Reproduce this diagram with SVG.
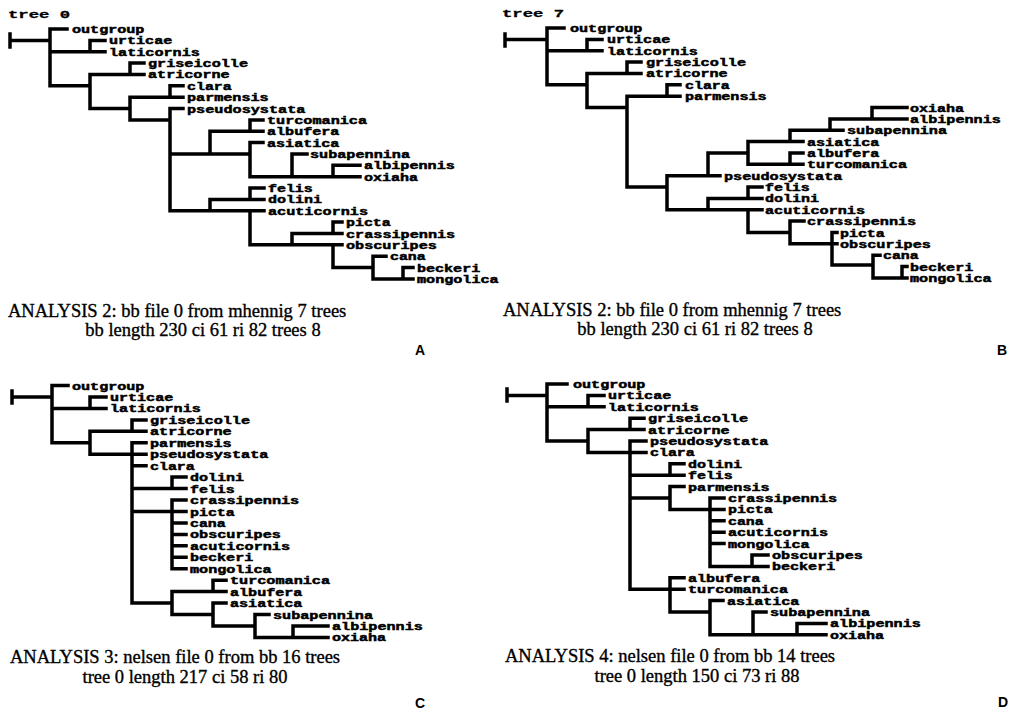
<svg xmlns="http://www.w3.org/2000/svg" width="1009" height="712" viewBox="0 0 1009 712">
<style>
.br{fill:none;stroke:#000;stroke-width:3.5;stroke-linecap:square}
.lb{font-family:"Liberation Mono","DejaVu Sans Mono",monospace;font-weight:bold;font-size:10px;fill:#000;stroke:#000;stroke-width:0.45}
.tt{font-family:"Liberation Mono","DejaVu Sans Mono",monospace;font-weight:bold;font-size:11px;fill:#000;stroke:#000;stroke-width:0.3}
.cap{font-family:"Liberation Serif","Times New Roman",serif;font-size:18.5px;fill:#000;stroke:#000;stroke-width:0.35}
.pl{font-family:"Liberation Sans",Arial,sans-serif;font-weight:bold;font-size:14px;fill:#000}
</style>
<rect width="1009" height="712" fill="#fff"/>

<!-- Tree A -->
<g id="treeA">
<text class="tt" x="8" y="18" textLength="62" lengthAdjust="spacingAndGlyphs">tree 0</text>
<g id="connectorsA" class="br">
<path d="M10 34V47M10 40.4H50M50 29V85.8M50 29H67M50 51.7H105M50 85.8H90M90 40.4V51.7M90 40.4H105M90 74.4V108.5M90 74.4H144M130 63.1V74.4M130 63.1H144M90 108.5H130M130 97.2V119.9M130 97.2H183M170 85.8V97.2M170 85.8H183M130 119.9H170M170 108.5V210.8M170 108.5H183M170 154H210M170 210.8H210M210 131.2V154M210 131.2H263M250 119.9V131.2M250 119.9H263M210 154H250M250 142.6V176.7M250 142.6H263M250 176.7H360M292 154V176.7M292 154H307M333 165.3V176.7M333 165.3H360M210 199.4V210.8M210 199.4H264M250 188V199.4M250 188H264M210 210.8H264M250 210.8V244.8M250 244.8H342M292 233.5V244.8M292 233.5H342M333 222.1V233.5M333 222.1H342M333 244.8V267.6M333 267.6H373M373 256.2V278.9M373 256.2H386M373 278.9H413M403 267.6V278.9M403 267.6H413"/>
</g>
<g id="A-outgroup"><text class="lb" x="72" y="33" textLength="72.4" lengthAdjust="spacingAndGlyphs">outgroup</text></g>
<g id="A-urticae"><text class="lb" x="109" y="44.4" textLength="63.2" lengthAdjust="spacingAndGlyphs">urticae</text></g>
<g id="A-laticornis"><text class="lb" x="109" y="55.7" textLength="90.8" lengthAdjust="spacingAndGlyphs">laticornis</text></g>
<g id="A-griseicolle"><text class="lb" x="148" y="67.1" textLength="100" lengthAdjust="spacingAndGlyphs">griseicolle</text></g>
<g id="A-atricorne"><text class="lb" x="148" y="78.4" textLength="81.6" lengthAdjust="spacingAndGlyphs">atricorne</text></g>
<g id="A-clara"><text class="lb" x="187" y="89.8" textLength="44.8" lengthAdjust="spacingAndGlyphs">clara</text></g>
<g id="A-parmensis"><text class="lb" x="187" y="101.2" textLength="81.6" lengthAdjust="spacingAndGlyphs">parmensis</text></g>
<g id="A-pseudosystata"><text class="lb" x="187" y="112.5" textLength="118.4" lengthAdjust="spacingAndGlyphs">pseudosystata</text></g>
<g id="A-turcomanica"><text class="lb" x="267" y="123.9" textLength="100" lengthAdjust="spacingAndGlyphs">turcomanica</text></g>
<g id="A-albufera"><text class="lb" x="267" y="135.2" textLength="72.4" lengthAdjust="spacingAndGlyphs">albufera</text></g>
<g id="A-asiatica"><text class="lb" x="267" y="146.6" textLength="72.4" lengthAdjust="spacingAndGlyphs">asiatica</text></g>
<g id="A-subapennina"><text class="lb" x="310" y="158" textLength="100" lengthAdjust="spacingAndGlyphs">subapennina</text></g>
<g id="A-albipennis"><text class="lb" x="364" y="169.3" textLength="90.8" lengthAdjust="spacingAndGlyphs">albipennis</text></g>
<g id="A-oxiaha"><text class="lb" x="364" y="180.7" textLength="54" lengthAdjust="spacingAndGlyphs">oxiaha</text></g>
<g id="A-felis"><text class="lb" x="268" y="192" textLength="44.8" lengthAdjust="spacingAndGlyphs">felis</text></g>
<g id="A-dolini"><text class="lb" x="268" y="203.4" textLength="54" lengthAdjust="spacingAndGlyphs">dolini</text></g>
<g id="A-acuticornis"><text class="lb" x="268" y="214.8" textLength="100" lengthAdjust="spacingAndGlyphs">acuticornis</text></g>
<g id="A-picta"><text class="lb" x="346" y="226.1" textLength="44.8" lengthAdjust="spacingAndGlyphs">picta</text></g>
<g id="A-crassipennis"><text class="lb" x="346" y="237.5" textLength="109.2" lengthAdjust="spacingAndGlyphs">crassipennis</text></g>
<g id="A-obscuripes"><text class="lb" x="346" y="248.8" textLength="90.8" lengthAdjust="spacingAndGlyphs">obscuripes</text></g>
<g id="A-cana"><text class="lb" x="390" y="260.2" textLength="35.6" lengthAdjust="spacingAndGlyphs">cana</text></g>
<g id="A-beckeri"><text class="lb" x="417" y="271.6" textLength="63.2" lengthAdjust="spacingAndGlyphs">beckeri</text></g>
<g id="A-mongolica"><text class="lb" x="417" y="282.9" textLength="81.6" lengthAdjust="spacingAndGlyphs">mongolica</text></g>
<text class="cap" x="8" y="317">ANALYSIS 2: bb file 0 from mhennig 7 trees</text>
<text class="cap" x="203" y="336" text-anchor="middle">bb length 230 ci 61 ri 82 trees 8</text>
<text class="pl" x="415" y="355">A</text>
</g>

<!-- Tree B -->
<g id="treeB">
<text class="tt" x="502" y="17" textLength="62" lengthAdjust="spacingAndGlyphs">tree 7</text>
<g id="connectorsB" class="br">
<path d="M505 34V46M505 39.4H547M547 28V84.8M547 28H564M547 50.7H602M547 84.8H587M587 39.4V50.7M587 39.4H602M587 73.4V107.5M587 73.4H641M627 62.1V73.4M627 62.1H641M587 107.5H627M627 96.2V187M627 96.2H680M667 84.8V96.2M667 84.8H680M627 187H667M667 175.7V209.8M667 175.7H720M708 153V175.7M708 153H748M748 141.6V164.3M748 141.6H803M748 164.3H803M790 153V164.3M790 153H803M790 130.2V141.6M790 130.2H843M830 118.9V130.2M830 118.9H907M872 107.5V118.9M872 107.5H907M667 209.8H708M708 198.4V209.8M708 198.4H762M748 187V198.4M748 187H762M708 209.8H762M748 209.8V232.5M748 232.5H790M790 221.1V243.8M790 221.1H804M790 243.8H837M832 232.5V265M832 232.5H837M832 265H873M873 255.2V277.9M873 255.2H880M873 277.9H907M902 266.6V277.9M902 266.6H907"/>
</g>
<g id="B-outgroup"><text class="lb" x="570" y="32" textLength="72.4" lengthAdjust="spacingAndGlyphs">outgroup</text></g>
<g id="B-urticae"><text class="lb" x="607" y="43.4" textLength="63.2" lengthAdjust="spacingAndGlyphs">urticae</text></g>
<g id="B-laticornis"><text class="lb" x="607" y="54.7" textLength="90.8" lengthAdjust="spacingAndGlyphs">laticornis</text></g>
<g id="B-griseicolle"><text class="lb" x="646" y="66.1" textLength="100" lengthAdjust="spacingAndGlyphs">griseicolle</text></g>
<g id="B-atricorne"><text class="lb" x="646" y="77.4" textLength="81.6" lengthAdjust="spacingAndGlyphs">atricorne</text></g>
<g id="B-clara"><text class="lb" x="685" y="88.8" textLength="44.8" lengthAdjust="spacingAndGlyphs">clara</text></g>
<g id="B-parmensis"><text class="lb" x="685" y="100.2" textLength="81.6" lengthAdjust="spacingAndGlyphs">parmensis</text></g>
<g id="B-oxiaha"><text class="lb" x="910" y="111.5" textLength="54" lengthAdjust="spacingAndGlyphs">oxiaha</text></g>
<g id="B-albipennis"><text class="lb" x="910" y="122.9" textLength="90.8" lengthAdjust="spacingAndGlyphs">albipennis</text></g>
<g id="B-subapennina"><text class="lb" x="847" y="134.2" textLength="100" lengthAdjust="spacingAndGlyphs">subapennina</text></g>
<g id="B-asiatica"><text class="lb" x="807" y="145.6" textLength="72.4" lengthAdjust="spacingAndGlyphs">asiatica</text></g>
<g id="B-albufera"><text class="lb" x="807" y="157" textLength="72.4" lengthAdjust="spacingAndGlyphs">albufera</text></g>
<g id="B-turcomanica"><text class="lb" x="807" y="168.3" textLength="100" lengthAdjust="spacingAndGlyphs">turcomanica</text></g>
<g id="B-pseudosystata"><text class="lb" x="724" y="179.7" textLength="118.4" lengthAdjust="spacingAndGlyphs">pseudosystata</text></g>
<g id="B-felis"><text class="lb" x="765" y="191" textLength="44.8" lengthAdjust="spacingAndGlyphs">felis</text></g>
<g id="B-dolini"><text class="lb" x="765" y="202.4" textLength="54" lengthAdjust="spacingAndGlyphs">dolini</text></g>
<g id="B-acuticornis"><text class="lb" x="765" y="213.8" textLength="100" lengthAdjust="spacingAndGlyphs">acuticornis</text></g>
<g id="B-crassipennis"><text class="lb" x="807" y="225.1" textLength="109.2" lengthAdjust="spacingAndGlyphs">crassipennis</text></g>
<g id="B-picta"><text class="lb" x="840" y="236.5" textLength="44.8" lengthAdjust="spacingAndGlyphs">picta</text></g>
<g id="B-obscuripes"><text class="lb" x="840" y="247.8" textLength="90.8" lengthAdjust="spacingAndGlyphs">obscuripes</text></g>
<g id="B-cana"><text class="lb" x="883" y="259.2" textLength="35.6" lengthAdjust="spacingAndGlyphs">cana</text></g>
<g id="B-beckeri"><text class="lb" x="910" y="270.6" textLength="63.2" lengthAdjust="spacingAndGlyphs">beckeri</text></g>
<g id="B-mongolica"><text class="lb" x="910" y="281.9" textLength="81.6" lengthAdjust="spacingAndGlyphs">mongolica</text></g>
<text class="cap" x="503" y="316">ANALYSIS 2: bb file 0 from mhennig 7 trees</text>
<text class="cap" x="695" y="335" text-anchor="middle">bb length 230 ci 61 ri 82 trees 8</text>
<text class="pl" x="997" y="355">B</text>
</g>

<!-- Tree C -->
<g id="treeC">
<g id="connectorsC" class="br">
<path d="M12 391V403M12 397H52M52 385.5V442.8M52 385.5H68M52 408.4H106M52 442.8H90M90 397V408.4M90 397H106M90 431.3V454.2M90 431.3H146M132 419.9V431.3M132 419.9H146M90 454.2H146M132 442.8V603.1M132 442.8H146M132 465.7H146M132 488.6H186M172 477.1V488.6M172 477.1H186M132 511.5H186M172 500V568.7M172 500H186M172 522.9H186M172 534.4H186M172 545.8H186M172 557.3H186M172 568.7H186M132 603.1H172M172 591.6V614.5M172 591.6H226M213 580.2V591.6M213 580.2H226M172 614.5H213M213 603.1V626M213 603.1H226M213 626H255M255 614.5V637.4M255 614.5H269M255 637.4H328M293 626V637.4M293 626H328"/>
</g>
<g id="C-outgroup"><text class="lb" x="72" y="389.5" textLength="72.4" lengthAdjust="spacingAndGlyphs">outgroup</text></g>
<g id="C-urticae"><text class="lb" x="110" y="401" textLength="63.2" lengthAdjust="spacingAndGlyphs">urticae</text></g>
<g id="C-laticornis"><text class="lb" x="110" y="412.4" textLength="90.8" lengthAdjust="spacingAndGlyphs">laticornis</text></g>
<g id="C-griseicolle"><text class="lb" x="150" y="423.9" textLength="100" lengthAdjust="spacingAndGlyphs">griseicolle</text></g>
<g id="C-atricorne"><text class="lb" x="150" y="435.3" textLength="81.6" lengthAdjust="spacingAndGlyphs">atricorne</text></g>
<g id="C-parmensis"><text class="lb" x="150" y="446.8" textLength="81.6" lengthAdjust="spacingAndGlyphs">parmensis</text></g>
<g id="C-pseudosystata"><text class="lb" x="150" y="458.2" textLength="118.4" lengthAdjust="spacingAndGlyphs">pseudosystata</text></g>
<g id="C-clara"><text class="lb" x="150" y="469.7" textLength="44.8" lengthAdjust="spacingAndGlyphs">clara</text></g>
<g id="C-dolini"><text class="lb" x="190" y="481.1" textLength="54" lengthAdjust="spacingAndGlyphs">dolini</text></g>
<g id="C-felis"><text class="lb" x="190" y="492.6" textLength="44.8" lengthAdjust="spacingAndGlyphs">felis</text></g>
<g id="C-crassipennis"><text class="lb" x="190" y="504" textLength="109.2" lengthAdjust="spacingAndGlyphs">crassipennis</text></g>
<g id="C-picta"><text class="lb" x="190" y="515.5" textLength="44.8" lengthAdjust="spacingAndGlyphs">picta</text></g>
<g id="C-cana"><text class="lb" x="190" y="526.9" textLength="35.6" lengthAdjust="spacingAndGlyphs">cana</text></g>
<g id="C-obscuripes"><text class="lb" x="190" y="538.4" textLength="90.8" lengthAdjust="spacingAndGlyphs">obscuripes</text></g>
<g id="C-acuticornis"><text class="lb" x="190" y="549.8" textLength="100" lengthAdjust="spacingAndGlyphs">acuticornis</text></g>
<g id="C-beckeri"><text class="lb" x="190" y="561.3" textLength="63.2" lengthAdjust="spacingAndGlyphs">beckeri</text></g>
<g id="C-mongolica"><text class="lb" x="190" y="572.7" textLength="81.6" lengthAdjust="spacingAndGlyphs">mongolica</text></g>
<g id="C-turcomanica"><text class="lb" x="230" y="584.2" textLength="100" lengthAdjust="spacingAndGlyphs">turcomanica</text></g>
<g id="C-albufera"><text class="lb" x="230" y="595.6" textLength="72.4" lengthAdjust="spacingAndGlyphs">albufera</text></g>
<g id="C-asiatica"><text class="lb" x="230" y="607.1" textLength="72.4" lengthAdjust="spacingAndGlyphs">asiatica</text></g>
<g id="C-subapennina"><text class="lb" x="273" y="618.5" textLength="100" lengthAdjust="spacingAndGlyphs">subapennina</text></g>
<g id="C-albipennis"><text class="lb" x="332" y="630" textLength="90.8" lengthAdjust="spacingAndGlyphs">albipennis</text></g>
<g id="C-oxiaha"><text class="lb" x="332" y="641.4" textLength="54" lengthAdjust="spacingAndGlyphs">oxiaha</text></g>
<text class="cap" x="10" y="663">ANALYSIS 3: nelsen file 0 from bb 16 trees</text>
<text class="cap" x="185" y="683" text-anchor="middle">tree 0 length 217 ci 58 ri 80</text>
<text class="pl" x="415" y="708">C</text>
</g>

<!-- Tree D -->
<g id="treeD">
<g id="connectorsD" class="br">
<path d="M507 389V401M507 395.4H547M547 384V441M547 384H567M547 406.8H604M547 441H588M588 395.4V406.8M588 395.4H604M588 429.6V452.4M588 429.6H644M630 418.2V429.6M630 418.2H644M588 452.4H646M630 441V589.2M630 441H646M630 475.2H684M670 463.8V475.2M670 463.8H684M630 498H670M670 486.6V509.4M670 486.6H684M670 509.4H724M710 498V566.4M710 498H724M710 520.8H724M710 532.2H724M710 543.6H724M710 566.4H768M752 555V566.4M752 555H768M630 589.2H684M670 577.8V612M670 577.8H684M670 612H710M710 600.6V634.8M710 600.6H723M710 634.8H753M753 612V634.8M753 612H766M753 634.8H826M797 623.4V634.8M797 623.4H826"/>
</g>
<g id="D-outgroup"><text class="lb" x="573" y="388" textLength="72.4" lengthAdjust="spacingAndGlyphs">outgroup</text></g>
<g id="D-urticae"><text class="lb" x="608" y="399.4" textLength="63.2" lengthAdjust="spacingAndGlyphs">urticae</text></g>
<g id="D-laticornis"><text class="lb" x="608" y="410.8" textLength="90.8" lengthAdjust="spacingAndGlyphs">laticornis</text></g>
<g id="D-griseicolle"><text class="lb" x="648" y="422.2" textLength="100" lengthAdjust="spacingAndGlyphs">griseicolle</text></g>
<g id="D-atricorne"><text class="lb" x="648" y="433.6" textLength="81.6" lengthAdjust="spacingAndGlyphs">atricorne</text></g>
<g id="D-pseudosystata"><text class="lb" x="650" y="445" textLength="118.4" lengthAdjust="spacingAndGlyphs">pseudosystata</text></g>
<g id="D-clara"><text class="lb" x="650" y="456.4" textLength="44.8" lengthAdjust="spacingAndGlyphs">clara</text></g>
<g id="D-dolini"><text class="lb" x="688" y="467.8" textLength="54" lengthAdjust="spacingAndGlyphs">dolini</text></g>
<g id="D-felis"><text class="lb" x="688" y="479.2" textLength="44.8" lengthAdjust="spacingAndGlyphs">felis</text></g>
<g id="D-parmensis"><text class="lb" x="688" y="490.6" textLength="81.6" lengthAdjust="spacingAndGlyphs">parmensis</text></g>
<g id="D-crassipennis"><text class="lb" x="728" y="502" textLength="109.2" lengthAdjust="spacingAndGlyphs">crassipennis</text></g>
<g id="D-picta"><text class="lb" x="728" y="513.4" textLength="44.8" lengthAdjust="spacingAndGlyphs">picta</text></g>
<g id="D-cana"><text class="lb" x="728" y="524.8" textLength="35.6" lengthAdjust="spacingAndGlyphs">cana</text></g>
<g id="D-acuticornis"><text class="lb" x="728" y="536.2" textLength="100" lengthAdjust="spacingAndGlyphs">acuticornis</text></g>
<g id="D-mongolica"><text class="lb" x="728" y="547.6" textLength="81.6" lengthAdjust="spacingAndGlyphs">mongolica</text></g>
<g id="D-obscuripes"><text class="lb" x="772" y="559" textLength="90.8" lengthAdjust="spacingAndGlyphs">obscuripes</text></g>
<g id="D-beckeri"><text class="lb" x="772" y="570.4" textLength="63.2" lengthAdjust="spacingAndGlyphs">beckeri</text></g>
<g id="D-albufera"><text class="lb" x="688" y="581.8" textLength="72.4" lengthAdjust="spacingAndGlyphs">albufera</text></g>
<g id="D-turcomanica"><text class="lb" x="688" y="593.2" textLength="100" lengthAdjust="spacingAndGlyphs">turcomanica</text></g>
<g id="D-asiatica"><text class="lb" x="727" y="604.6" textLength="72.4" lengthAdjust="spacingAndGlyphs">asiatica</text></g>
<g id="D-subapennina"><text class="lb" x="770" y="616" textLength="100" lengthAdjust="spacingAndGlyphs">subapennina</text></g>
<g id="D-albipennis"><text class="lb" x="830" y="627.4" textLength="90.8" lengthAdjust="spacingAndGlyphs">albipennis</text></g>
<g id="D-oxiaha"><text class="lb" x="830" y="638.8" textLength="54" lengthAdjust="spacingAndGlyphs">oxiaha</text></g>
<text class="cap" x="505" y="662">ANALYSIS 4: nelsen file 0 from bb 14 trees</text>
<text class="cap" x="697" y="682" text-anchor="middle">tree 0 length 150 ci 73 ri 88</text>
<text class="pl" x="998" y="707">D</text>
</g>
</svg>
